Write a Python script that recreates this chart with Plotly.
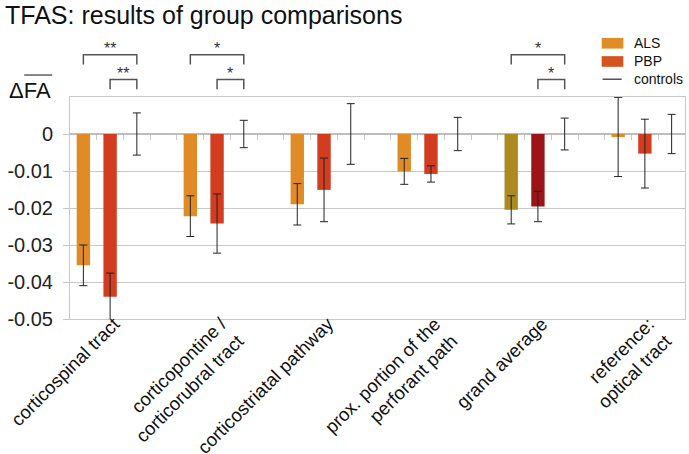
import plotly.graph_objects as go

# ---------------- data ----------------
categories = [
    "corticospinal tract",
    "corticopontine /<br>corticorubral tract",
    "corticostriatal pathway",
    "prox. portion of the<br>perforant path",
    "grand average",
    "reference:<br>optical tract",
]
als_mean = [-0.0355, -0.0222, -0.0190, -0.0101, -0.0205, -0.0008]
als_err = [0.0055, 0.0055, 0.0056, 0.0035, 0.0038, 0.0107]
pbp_mean = [-0.0440, -0.0242, -0.0151, -0.0108, -0.0196, -0.0053]
pbp_err = [0.0064, 0.0080, 0.0086, 0.0022, 0.0041, 0.0093]
ctrl_mean = [0, 0, 0, 0, 0, 0]
ctrl_err = [0.0057, 0.0037, 0.0082, 0.0045, 0.0043, 0.0053]

y_ticks = [-0.05, -0.04, -0.03, -0.02, -0.01, 0]
y_tick_labels = ["-0.05", "-0.04", "-0.03", "-0.02", "-0.01", "0"]

# significance brackets: category, first group, second group, label, bracket level (value units)
sig_cat = [0, 0, 1, 1, 4, 4]
sig_from = [0, 1, 0, 1, 0, 1]      # 0 = ALS, 1 = PBP
sig_to = [2, 2, 2, 2, 2, 2]        # 2 = controls
sig_label = ["**", "**", "*", "*", "*", "*"]
sig_level = [0.0214, 0.0147, 0.0214, 0.0147, 0.0214, 0.0147]

# ---------------- style ----------------
Y_MIN, Y_MAX = -0.05, 0.01
SLOTS = 4
HIGHLIGHT = 4  # grand average drawn in darker colours
als_colors = ["#AC8A1F" if i == HIGHLIGHT else "#E08B26" for i in range(len(categories))]
pbp_colors = ["#9C1418" if i == HIGHLIGHT else "#D23C1F" for i in range(len(categories))]
FONT = "Liberation Sans, Arial, sans-serif"
GRID = "#C8C8C8"

n = len(categories)
x_als = [SLOTS * i for i in range(n)]
x_pbp = [SLOTS * i + 1 for i in range(n)]
x_ctrl = [SLOTS * i + 2 for i in range(n)]
LABEL_SHIFT = 0.15
x_cat = [SLOTS * i + 1 + LABEL_SHIFT for i in range(n)]
x_max = SLOTS * n - 1
boundaries = [b - 0.5 for b in range(1, x_max)]

err_style = dict(type="data", color="#222222", thickness=1, width=4)

fig = go.Figure()
fig.add_trace(go.Bar(x=x_als, y=als_mean, width=0.5, marker=dict(color=als_colors, line_width=0),
                     error_y=dict(array=als_err, **err_style), name="ALS", showlegend=False))
fig.add_trace(go.Bar(x=x_pbp, y=pbp_mean, width=0.5, marker=dict(color=pbp_colors, line_width=0),
                     error_y=dict(array=pbp_err, **err_style), name="PBP", showlegend=False))
fig.add_trace(go.Scatter(x=x_ctrl, y=ctrl_mean, mode="markers",
                         marker=dict(size=1, color="rgba(0,0,0,0)"),
                         error_y=dict(array=ctrl_err, **err_style), name="controls", showlegend=False))
# helper trace for the tick axis drawn on the zero line
fig.add_trace(go.Scatter(x=[0], y=[0], xaxis="x2", mode="markers",
                         marker=dict(size=1, color="rgba(0,0,0,0)"), hoverinfo="skip", showlegend=False))

def to_paper(v):
    return (v - Y_MIN) / (Y_MAX - Y_MIN)

groups_x = [x_als, x_pbp, x_ctrl]
shapes = []
annotations = []
for c, f, t, lab, lev in zip(sig_cat, sig_from, sig_to, sig_label, sig_level):
    xa = groups_x[f][c]
    xb = groups_x[t][c]
    ytop = to_paper(lev)
    yleg = to_paper(lev - 0.0026)
    shapes.append(dict(type="path", xref="x", yref="paper",
                       path=f"M {xa},{yleg} L {xa},{ytop} L {xb},{ytop} L {xb},{yleg}",
                       line=dict(color="#555555", width=1.5)))
    annotations.append(dict(x=(xa + xb) / 2, y=to_paper(lev + 0.0017), xref="x", yref="paper", text=lab,
                            showarrow=False, font=dict(size=16, color="#333333", family=FONT),
                            yanchor="middle"))

# custom legend
leg_items = ["ALS", "PBP", "controls"]
leg_colors = ["#E08D27", "#D4531F", "#555555"]
leg_y = [1.242, 1.160, 1.080]
for name, col, ly in zip(leg_items, leg_colors, leg_y):
    if name == "controls":
        shapes.append(dict(type="line", xref="paper", yref="paper", x0=0.866, x1=0.897, y0=ly, y1=ly,
                           line=dict(color=col, width=1.5)))
    else:
        shapes.append(dict(type="rect", xref="paper", yref="paper", x0=0.8645, x1=0.8997,
                           y0=ly - 0.024, y1=ly + 0.024, fillcolor=col, line_width=0))
    annotations.append(dict(x=0.9134, y=ly, xref="paper", yref="paper", text=name, showarrow=False,
                            xanchor="left", yanchor="middle",
                            font=dict(size=14, color="#111111", family=FONT)))

# y-axis title: ΔFA with an overline on FA
annotations.append(dict(x=-0.103, y=1.03, xref="paper", yref="paper", text="ΔFA", showarrow=False,
                        xanchor="left", yanchor="middle", font=dict(size=22, color="#111111", family=FONT)))
shapes.append(dict(type="line", xref="paper", yref="paper", x0=-0.0745, x1=-0.029, y0=1.099, y1=1.099,
                   line=dict(color="#111111", width=1)))

fig.update_layout(
    width=689, height=454,
    margin=dict(l=70, r=4, t=97, b=135, autoexpand=False),
    paper_bgcolor="white", plot_bgcolor="white",
    barmode="overlay",
    showlegend=False,
    font=dict(family=FONT, color="#111111"),
    title=dict(text="TFAS: results of group comparisons", x=5 / 689, xanchor="left",
               xref="container", y=1 - 15 / 454, yref="container", yanchor="middle",
               font=dict(size=25, color="#111111", family=FONT)),
    xaxis=dict(range=[-0.5, x_max - 0.5], tickmode="array", tickvals=x_cat, ticktext=categories,
               tickangle=-45, tickfont=dict(size=18.5, color="#111111", family=FONT),
               showgrid=False, zeroline=False, showline=True, mirror=True, linecolor=GRID,
               ticks="", automargin=False, fixedrange=True, ticklabelstandoff=-14),
    xaxis2=dict(overlaying="x", anchor="free", position=to_paper(0), side="bottom",
                range=[-0.5, x_max - 0.5], tickmode="array", tickvals=boundaries,
                ticks="outside", ticklen=5, tickcolor=GRID, showticklabels=False,
                showgrid=False, zeroline=False, showline=False, automargin=False),
    yaxis=dict(range=[Y_MIN, Y_MAX], tickmode="array", tickvals=y_ticks, ticktext=y_tick_labels,
               tickfont=dict(size=20, color="#222222", family=FONT),
               showgrid=True, gridcolor=GRID, gridwidth=1,
               zeroline=True, zerolinecolor="#BDBDBD", zerolinewidth=1.5,
               showline=True, mirror=True, linecolor=GRID, automargin=False,
               ticks="outside", ticklen=6, tickcolor=GRID, ticklabelstandoff=6),
    shapes=shapes,
    annotations=annotations,
)

fig.write_html("out.html", post_script="document.body.style.margin='0';",
               config={"displayModeBar": False})
